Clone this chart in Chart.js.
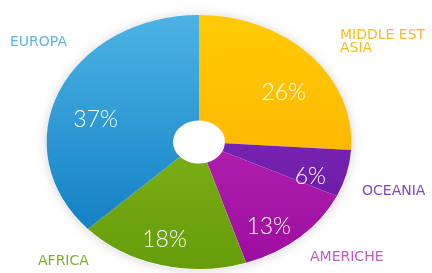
<!DOCTYPE html>
<html>
<head>
<meta charset="utf-8">
<script src="https://cdn.jsdelivr.net/npm/chart.js@4.4.1/dist/chart.umd.min.js"></script>
<style>
  html, body { margin: 0; padding: 0; background: #fff; }
  #wrap { width: 432px; height: 273px; position: relative; }
</style>
</head>
<body>
<div id="wrap"><canvas id="cvPie"></canvas></div>
<script>
// chart data
var regions = ["MIDDLE EST\nASIA", "OCEANIA", "AMERICHE", "AFRICA", "EUROPA"];
var shares = [26, 6, 13, 18, 37];
var pctLabels = ["26%", "6%", "13%", "18%", "37%"];

// look
var topColors = ["#ffcb05", "#8a34c4", "#c234c0", "#8dc21f", "#4cb3e3"];
var bottomColors = ["#ffa800", "#64129e", "#9c0c9e", "#679c0c", "#0a78c0"];
var textColors = ["#f9bb22", "#8a44c4", "#c45ac4", "#7cae32", "#5cb4e2"];
// where the region names sit, and where the percentages go inside each slice
var namePos = [[340, 35], [362, 191], [310, 257], [38, 261], [10, 42]];
var pctRadius = [0.68, 0.78, 0.81, 0.80, 0.70];
var pctShift = [8, 6, 7, 2, -9]; // degrees off the slice middle
var stretchX = 1.2;

function sliceFill(ctx) {
    var chart = ctx.chart;
    var area = chart.chartArea;
    if (!area) return topColors[ctx.dataIndex];
    var g = chart.ctx.createLinearGradient(0, area.top, 0, area.bottom);
    g.addColorStop(0, topColors[ctx.dataIndex]);
    g.addColorStop(1, bottomColors[ctx.dataIndex]);
    return g;
}

// stretch the pie a bit sideways, like the original, with a soft shadow behind
var stretchPlugin = {
    id: "stretch",
    beforeDatasetsDraw: function (chart) {
        var arc = chart.getDatasetMeta(0).data[0];
        var ctx = chart.ctx;
        ctx.save();
        ctx.shadowColor = "rgba(0,0,0,0.18)";
        ctx.shadowBlur = 12;
        ctx.fillStyle = "#ffffff";
        ctx.beginPath();
        ctx.ellipse(arc.x, arc.y + 1, arc.outerRadius * stretchX, arc.outerRadius, 0, 0, Math.PI * 2);
        ctx.fill();
        ctx.restore();
        ctx.save();
        ctx.translate(arc.x, arc.y);
        ctx.scale(stretchX, 1);
        ctx.translate(-arc.x, -arc.y);
    },
    afterDatasetsDraw: function (chart) {
        chart.ctx.restore();
    }
};

// percentages inside the slices and names around the pie
var labelPlugin = {
    id: "labels",
    afterDraw: function (chart) {
        var ctx = chart.ctx;
        var arcs = chart.getDatasetMeta(0).data;
        ctx.save();
        ctx.textAlign = "center";
        ctx.textBaseline = "middle";
        ctx.font = "300 23px Lato, 'DejaVu Sans'";
        ctx.fillStyle = "#ffffff";
        arcs.forEach(function (a, i) {
            var mid = (a.startAngle + a.endAngle) / 2 + pctShift[i] * Math.PI / 180;
            var r = a.outerRadius * pctRadius[i];
            ctx.fillText(pctLabels[i], a.x + Math.cos(mid) * r * stretchX, a.y + Math.sin(mid) * r);
        });
        ctx.textAlign = "left";
        ctx.font = "14px 'DejaVu Sans'";
        regions.forEach(function (name, i) {
            ctx.fillStyle = textColors[i];
            name.split("\n").forEach(function (line, k) {
                ctx.fillText(line, namePos[i][0], namePos[i][1] + k * 13);
            });
        });
        ctx.restore();
    }
};

new Chart(document.getElementById("cvPie"), {
    type: "doughnut",
    data: {
        labels: regions,
        datasets: [{
            data: shares,
            backgroundColor: sliceFill,
            borderWidth: 0,
            hoverOffset: 0
        }]
    },
    options: {
        responsive: true,
        maintainAspectRatio: false,
        animation: false,
        cutout: "17%",
        layout: { padding: { left: 72, right: 106, top: 15, bottom: 4 } },
        plugins: {
            legend: { display: false },
            tooltip: { enabled: false }
        }
    },
    plugins: [stretchPlugin, labelPlugin]
});
</script>
</body>
</html>
